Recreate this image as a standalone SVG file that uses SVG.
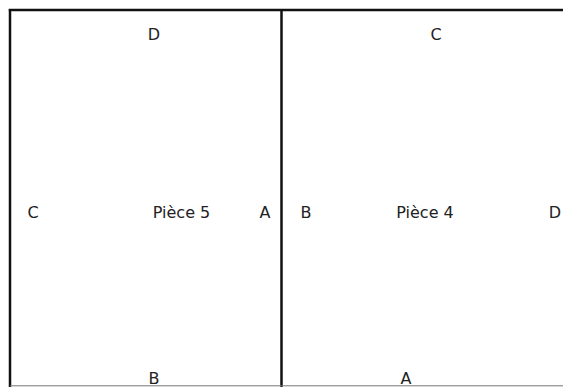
<svg xmlns="http://www.w3.org/2000/svg" width="563" height="387" viewBox="0 0 563 387">
<style>
.t{font-family:"DejaVu Sans",sans-serif;font-size:16px;fill:#222;text-anchor:middle}
.w{stroke:#111;stroke-width:2.5;fill:none}
</style>
<rect width="563" height="387" fill="#fff"/>
<g id="walls">
<line class="w" x1="10" y1="9" x2="10" y2="387"/>
<line class="w" x1="8.8" y1="10" x2="563" y2="10"/>
<line class="w" x1="281.5" y1="10" x2="281.5" y2="387"/>
<line x1="10" y1="385.8" x2="563" y2="385.8" stroke="#777" stroke-width="1"/>
</g>
<g id="piece5">
<text class="t" x="154" y="40">D</text>
<text class="t" x="33" y="218">C</text>
<text class="t" x="181.5" y="218">Pièce 5</text>
<text class="t" x="265" y="218">A</text>
<text class="t" x="154" y="384">B</text>
</g>
<g id="piece4">
<text class="t" x="436" y="40">C</text>
<text class="t" x="306" y="218">B</text>
<text class="t" x="425" y="218">Pièce 4</text>
<text class="t" x="555" y="218">D</text>
<text class="t" x="406" y="384">A</text>
</g>
</svg>
